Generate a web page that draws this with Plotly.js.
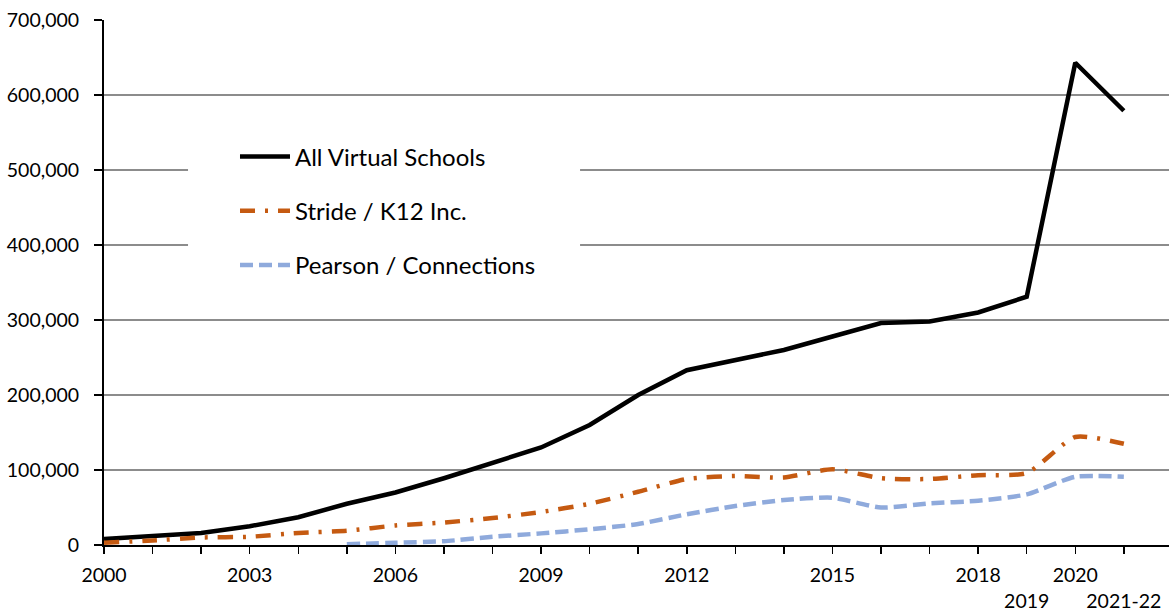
<!DOCTYPE html>
<html>
<head>
<meta charset="utf-8">
<script src="https://cdn.plot.ly/plotly-3.0.1.min.js"></script>
<style>html,body{margin:0;padding:0;background:#fff;}#chart{width:1169px;height:611px;}</style>
</head>
<body>
<div id="chart"></div>
<script>
// Data
const years = [2000,2001,2002,2003,2004,2005,2006,2007,2008,2009,2010,2011,2012,2013,2014,2015,2016,2017,2018,2019,2020,2021];
const allVirtual = [8000,12000,16000,25000,37000,55000,70000,89000,110000,130000,160000,200000,233000,246000,260000,278000,296000,298000,310000,331000,643000,579000];
const strideK12 = [3000,6000,10000,11000,16000,19000,26000,30000,36000,44000,55000,71000,88000,92000,90000,101000,89000,88000,93000,96000,144000,135000];
const pearsonYears = [2005,2006,2007,2008,2009,2010,2011,2012,2013,2014,2015,2016,2017,2018,2019,2020,2021];
const pearson = [1000,3000,5000,11000,15500,21000,28000,41000,52000,60000,63000,50000,55500,59000,67500,91000,91000];
const tickYears = years;
const tickLabels = ["2000","","","2003","","","2006","","","2009","","","2012","","","2015","","","2018","<br>2019","2020","<br>2021-22"];
const seriesNames = ["All Virtual Schools","Stride / K12 Inc.","Pearson / Connections"];

const font = "Lato, 'Open Sans', sans-serif";

const traces = [
  {x: years, y: allVirtual, name: seriesNames[0], type: 'scatter', mode: 'lines',
   line: {color: '#000000', width: 4.5}, legendgroup: 'a'},
  {x: years, y: strideK12, name: seriesNames[1], type: 'scatter', mode: 'lines',
   line: {color: '#C55A11', width: 4.5, dash: '15px,10px,3px,10px', shape: 'spline', smoothing: 0.6}, legendgroup: 'b'},
  {x: pearsonYears, y: pearson, name: seriesNames[2], type: 'scatter', mode: 'lines',
   line: {color: '#8FAADC', width: 4.5, dash: '13px,6px', shape: 'spline', smoothing: 0.6}, legendgroup: 'c'}
];

const layout = {
  width: 1169, height: 611,
  margin: {l: 104, r: 0, t: 20, b: 66},
  paper_bgcolor: '#ffffff', plot_bgcolor: '#ffffff',
  font: {family: font, color: '#000000', size: 19.5},
  showlegend: true,
  legend: {x: 0.123, y: 0.782, xanchor: 'left', yanchor: 'top', bgcolor: 'rgba(0,0,0,0)',
           font: {family: font, size: 24, color: '#000'}, traceorder: 'grouped', tracegroupgap: 20,
           itemwidth: 50},
  xaxis: {
    range: [2000, 2021.93], tickmode: 'array', tickvals: tickYears, ticktext: tickLabels,
    ticks: 'outside', ticklen: 7, tickcolor: '#000', tickwidth: 1.5,
    showline: true, linecolor: '#000', linewidth: 2, showgrid: false, zeroline: false,
    tickangle: 0, tickfont: {family: font, size: 19.5, color: '#000'}, ticklabelstandoff: 5
  },
  yaxis: {
    range: [0, 700000], tickvals: [0,100000,200000,300000,400000,500000,600000,700000],
    tickformat: ',d', ticks: 'outside', ticklen: 8, tickcolor: '#000', tickwidth: 1.5,
    showline: true, linecolor: '#000', linewidth: 2,
    showgrid: true, gridcolor: '#8c8c8c', gridwidth: 1.5, zeroline: false,
    tickfont: {family: font, size: 19.5, color: '#000'}, ticklabelstandoff: 11
  },
  shapes: [
    {type: 'rect', xref: 'paper', yref: 'paper', x0: 0.0789, x1: 0.447, y0: 0.486, y1: 0.79,
     fillcolor: '#ffffff', line: {width: 0}, layer: 'above'}
  ]
};

Plotly.newPlot('chart', traces, layout, {displayModeBar: false, staticPlot: true});
</script>
</body>
</html>
